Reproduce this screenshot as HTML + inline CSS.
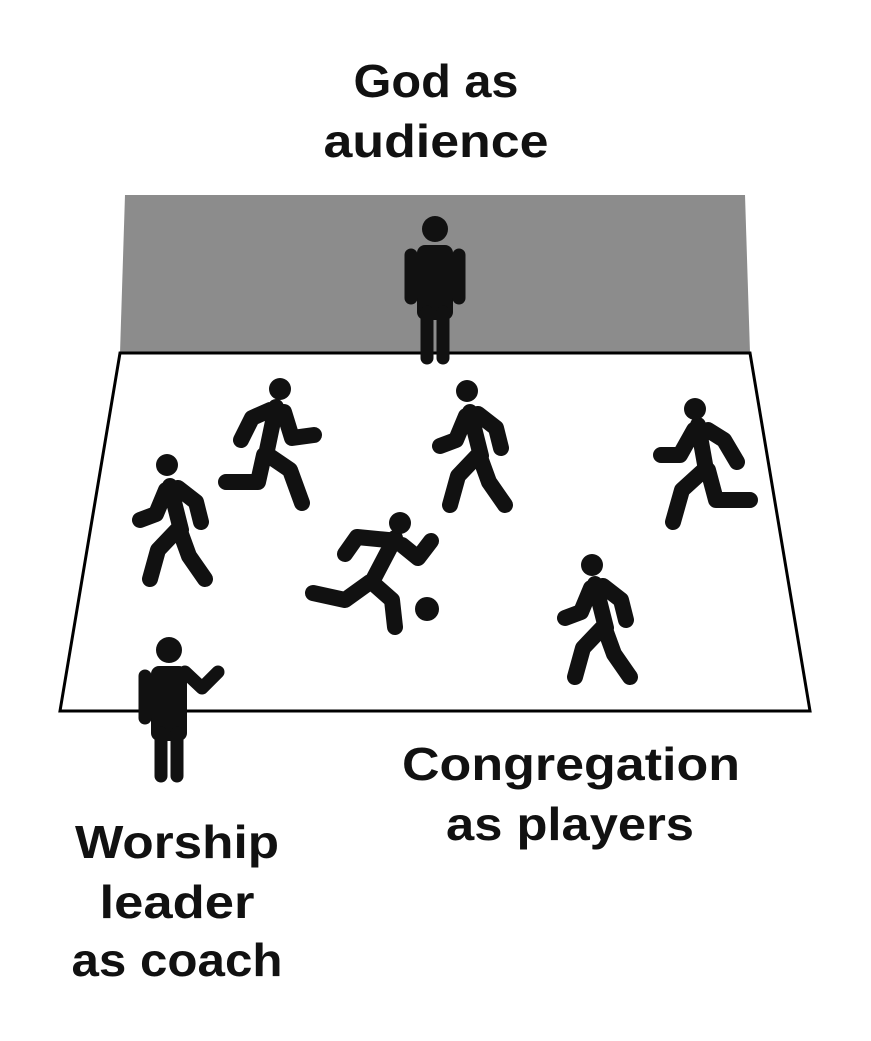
<!DOCTYPE html><html><head><style>body{margin:0;background:#fff}svg{display:block}text{font-family:"Liberation Sans",sans-serif;font-weight:bold;font-size:46px;text-anchor:middle;fill:#111}</style></head><body>
<svg width="871" height="1041" viewBox="0 0 871 1041">
<polygon points="125,195 745,195 750,353 120,353" fill="#8c8c8c"/>
<polygon points="120,353 750,353 810,711 60,711" fill="#fff" stroke="#000" stroke-width="3"/>
<g fill="#111" stroke="#111" stroke-linecap="round" stroke-linejoin="round">
<circle cx="435" cy="229" r="13" stroke="none"/>
<rect x="417" y="245" width="36" height="75" rx="8" stroke="none"/>
<g fill="none" stroke-width="13"><path d="M411,255V298M459,255V298M427,312V358M443,312V358"/></g>
<circle cx="169" cy="650" r="13" stroke="none"/>
<rect x="151" y="666" width="36" height="75" rx="8" stroke="none"/>
<g fill="none" stroke-width="13"><path d="M145,676V718M185,672L202,688L218,672M161,733V776M177,733V776"/></g>
<g fill="none" stroke-width="16">
<g id="w"><path d="M470,412L481,456M466,416L456,440L440,446M478,414L496,428L501,448M478,455L458,476L450,505M481,460L489,482L505,505"/></g>
<use href="#w" transform="translate(-300,74)"/>
<use href="#w" transform="translate(125,172)"/>
<path d="M276,407L266,455M284,412L292,438L314,435M270,410L252,418L241,440M264,455L258,482L226,482M268,455L290,470L302,503"/>
<path d="M698,425L706,470M694,430L680,455L661,455M708,430L724,440L737,462M704,470L682,490L673,522M708,470L716,500L750,500"/>
<path d="M395,538L372,582M388,540L357,537L345,554M402,545L418,558L431,541M370,582L345,600L313,593M375,585L392,600L395,627"/>
</g>
<circle cx="467" cy="391" r="11" stroke="none"/>
<circle cx="167" cy="465" r="11" stroke="none"/>
<circle cx="592" cy="565" r="11" stroke="none"/>
<circle cx="280" cy="389" r="11" stroke="none"/>
<circle cx="695" cy="409" r="11" stroke="none"/>
<circle cx="400" cy="523" r="11" stroke="none"/>
<circle cx="427" cy="609" r="12" stroke="none"/>
</g>
<text x="436" y="97" textLength="165" lengthAdjust="spacingAndGlyphs">God as</text>
<text x="436" y="157" textLength="225" lengthAdjust="spacingAndGlyphs">audience</text>
<text x="571" y="780" textLength="338" lengthAdjust="spacingAndGlyphs">Congregation</text>
<text x="570" y="840" textLength="248" lengthAdjust="spacingAndGlyphs">as players</text>
<text x="177" y="858" textLength="204" lengthAdjust="spacingAndGlyphs">Worship</text>
<text x="177" y="918" textLength="155" lengthAdjust="spacingAndGlyphs">leader</text>
<text x="177" y="976" textLength="211" lengthAdjust="spacingAndGlyphs">as coach</text>
</svg></body></html>
